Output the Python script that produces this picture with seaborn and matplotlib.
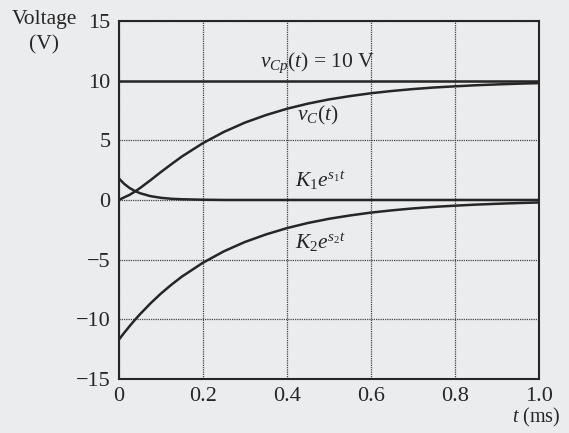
import pandas as pd
import matplotlib
matplotlib.use("Agg")
import matplotlib.pyplot as plt
import seaborn as sns

# values (t in ms, volts)
t_ms = [0.0, 0.0125, 0.025, 0.0375, 0.05, 0.075, 0.1, 0.125, 0.15, 0.2, 0.25,
        0.3, 0.35, 0.4, 0.45, 0.5, 0.55, 0.6, 0.65, 0.7, 0.75, 0.8, 0.85,
        0.9, 0.95, 1.0]
v_c = [0.0, 0.22, 0.42, 0.69, 0.99, 1.65, 2.34, 3.00, 3.64, 4.76, 5.70,
       6.48, 7.11, 7.64, 8.07, 8.42, 8.70, 8.94, 9.13, 9.29, 9.42, 9.52, 9.61,
       9.68, 9.74, 9.79]
k1_term = [1.80, 1.35, 1.01, 0.76, 0.57, 0.32, 0.18, 0.10, 0.06, 0.02, 0.0,
           0.0, 0.0, 0.0, 0.0, 0.0, 0.0, 0.0, 0.0, 0.0, 0.0, 0.0, 0.0,
           0.0, 0.0, 0.0]
k2_term = [-11.70, -11.13, -10.59, -10.07, -9.58, -8.67, -7.84, -7.10, -6.42,
           -5.26, -4.30, -3.52, -2.89, -2.36, -1.93, -1.58, -1.30, -1.06,
           -0.87, -0.71, -0.58, -0.48, -0.39, -0.32, -0.26, -0.21]
v_cp = 10.0

x_ticks = [0, 0.2, 0.4, 0.6, 0.8, 1.0]
x_tick_labels = ["0", "0.2", "0.4", "0.6", "0.8", "1.0"]
y_ticks = [-15, -10, -5, 0, 5, 10, 15]
y_tick_labels = ["\u221215", "\u221210", "\u22125", "0", "5", "10", "15"]

dados = pd.DataFrame({"t": t_ms, "vC": v_c, "K1": k1_term, "K2": k2_term})

paper = "#ebecee"
ink = "#262626"

sns.set_theme(style="white")
plt.rcParams["font.family"] = ["Liberation Serif", "DejaVu Serif"]
plt.rcParams["mathtext.fontset"] = "custom"
plt.rcParams["mathtext.rm"] = "Liberation Serif"
plt.rcParams["mathtext.it"] = "Liberation Serif:italic"

fig = plt.figure(figsize=(5.69, 4.33), dpi=100, facecolor=paper)
ax = fig.add_axes([0.209, 0.1247, 0.738, 0.827])
ax.set_facecolor(paper)

ax.axhline(v_cp, color=ink, lw=1.8, zorder=3)
for col in ["vC", "K1", "K2"]:
    sns.lineplot(data=dados, x="t", y=col, ax=ax, color=ink, lw=1.8, zorder=3)

ax.set_xlim(0, 1.0)
ax.set_ylim(-15, 15)
ax.set_xticks(x_ticks)
ax.set_xticklabels(x_tick_labels)
ax.set_yticks(y_ticks)
ax.set_yticklabels(y_tick_labels)
ax.tick_params(length=0, labelsize=16, colors=ink, pad=6)
ax.set_xlabel("")
ax.set_ylabel("")
ax.grid(True, color="#444444", lw=0.9, ls=(0, (1, 0.8)))
for s in ax.spines.values():
    s.set_color(ink)
    s.set_linewidth(1.5)

ax.text(0.474, 11.5, r"$v_{Cp}(t)$ = 10 V", fontsize=15.5, color=ink,
        ha="center", va="center")
ax.text(0.474, 7.1, r"$v_C(t)$", fontsize=15.5, color=ink, ha="center", va="center")
ax.text(0.48, 1.6, r"$K_1e^{s_1t}$", fontsize=15.5, color=ink, ha="center", va="center")
ax.text(0.48, -3.6, r"$K_2e^{s_2t}$", fontsize=15.5, color=ink, ha="center", va="center")

fig.text(0.078, 0.954, "Voltage", fontsize=15.5, color=ink, ha="center", va="center")
fig.text(0.078, 0.896, "(V)", fontsize=15.5, color=ink, ha="center", va="center")
fig.text(0.986, 0.036, r"$t$ (ms)", fontsize=14.5, color=ink, ha="right", va="center")

fig.savefig("out.png", dpi=100, facecolor=paper)
